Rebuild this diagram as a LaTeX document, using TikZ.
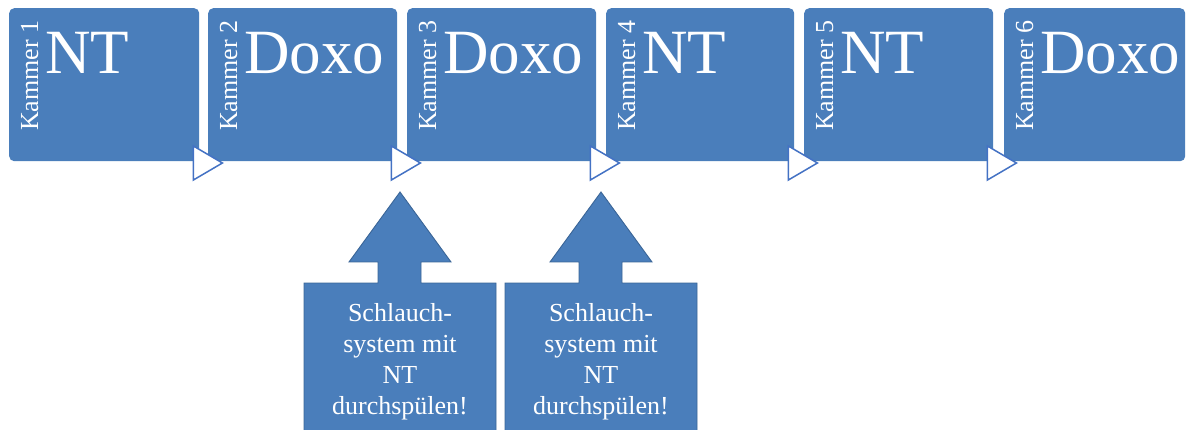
\documentclass[tikz,border=0pt]{standalone}
\usepackage{fontspec}
\setmainfont{Liberation Serif}
\usetikzlibrary{calc}
\definecolor{boxblue}{HTML}{4A7EBB}
\definecolor{triblue}{HTML}{4472C4}
\definecolor{edgeblue}{HTML}{3A6597}
\tikzset{
  kbox/.style={rectangle, rounded corners=5pt, fill=boxblue, draw=none, inner sep=0pt,
    minimum height=153pt, anchor=north west},
  klabel/.style={text=white, inner sep=0pt, rotate=90, anchor=base west,
    font=\fontsize{26}{26}\selectfont},
  bigword/.style={text=white, inner sep=0pt, anchor=base west,
    font=\fontsize{63}{63}\selectfont},
  flowtri/.style={fill=white, draw=triblue, line width=1.5pt, line join=miter},
  uparrow/.style={fill=boxblue, draw=edgeblue, line width=0.9pt},
  arrowtext/.style={text=white, inner sep=0pt, align=center,
    font=\fontsize{26}{31}\selectfont}
}
\begin{document}
\begin{tikzpicture}[x=1pt,y=-1pt]
\useasboundingbox (0,0) rectangle (1188,430);
\clip (0,0) rectangle (1188,430);
% boxes
\node[kbox, minimum width=190pt] (k1) at (9,8) {};
\node[kbox, minimum width=189pt] (k2) at (208,8) {};
\node[kbox, minimum width=189pt] (k3) at (407,8) {};
\node[kbox, minimum width=188pt] (k4) at (606,8) {};
\node[kbox, minimum width=189pt] (k5) at (804,8) {};
\node[kbox, minimum width=181pt] (k6) at (1004,8) {};
% labels
\foreach \i/\w in {1/NT,2/Doxo,3/Doxo,4/NT,5/NT,6/Doxo}{
  \node[klabel] (l\i) at ($(k\i.north west)+(29,123)$) {Kammer \i};
  \node[bigword] (w\i) at ($(k\i.north west)+(36,66)$) {\w};
}
% flow triangles
\foreach \i in {1,...,5}{
  \coordinate (t\i) at ($(k\i.north east)+(-6,155)$);
  \draw[flowtri] ($(t\i)+(0,-17)$) -- ($(t\i)+(29,0)$) -- ($(t\i)+(0,17)$) -- cycle;
}
% up arrows
\coordinate (ua) at (400,192);
\coordinate (ub) at (601,192);
\foreach \c in {ua,ub}{
  \draw[uparrow] ($(\c)+(-96,240)$) -- ($(\c)+(-96,91)$) -- ($(\c)+(-22,91)$) --
    ($(\c)+(-22,70)$) -- ($(\c)+(-51,70)$) -- (\c) -- ($(\c)+(51,70)$) --
    ($(\c)+(21,70)$) -- ($(\c)+(21,91)$) -- ($(\c)+(96,91)$) -- ($(\c)+(96,240)$);
}
\node[arrowtext] (sa) at ($(ua)+(0,170)$) {Schlauch-\\system mit\\NT\\durchspülen!};
\node[arrowtext] (sb) at ($(ub)+(0,170)$) {Schlauch-\\system mit\\NT\\durchspülen!};
\end{tikzpicture}
\end{document}
